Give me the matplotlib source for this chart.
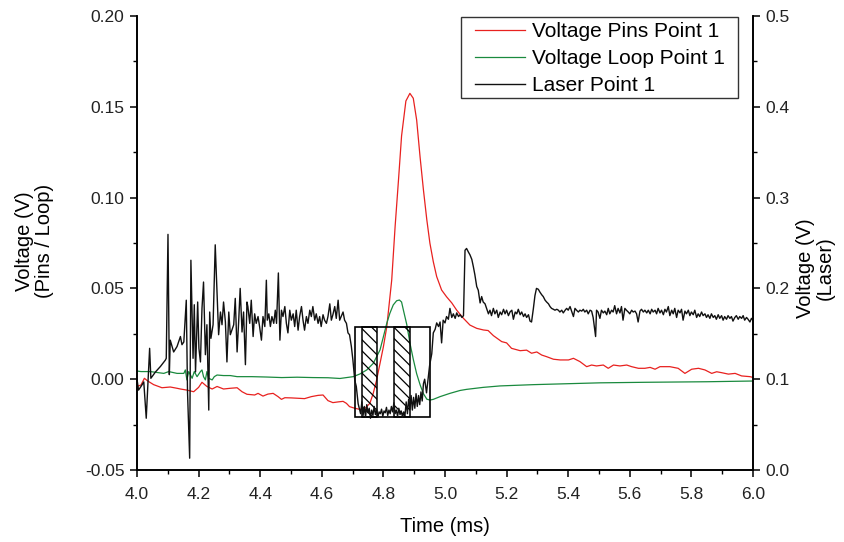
import matplotlib
matplotlib.use("Agg")
import matplotlib.pyplot as plt
from matplotlib.patches import Rectangle
from matplotlib.ticker import MultipleLocator, FormatStrFormatter

plt.rcParams['font.family'] = ['Liberation Sans', 'DejaVu Sans']
plt.rcParams['hatch.linewidth'] = 0.9

# ---- Voltage on the pins (left axis, V) ----
pins_t = [4.000, 4.013, 4.024, 4.035, 4.054, 4.081, 4.108, 4.130, 4.141, 4.162,
          4.184, 4.200, 4.211, 4.227, 4.244, 4.260, 4.281, 4.303, 4.325, 4.341,
          4.357, 4.382, 4.393, 4.409, 4.425, 4.442, 4.458, 4.469, 4.480, 4.501,
          4.523, 4.544, 4.566, 4.588, 4.604, 4.620, 4.636, 4.653, 4.669, 4.680,
          4.690, 4.707, 4.723, 4.740, 4.756, 4.767, 4.778, 4.789, 4.800, 4.811,
          4.827, 4.838, 4.849, 4.859, 4.873, 4.886, 4.897, 4.908, 4.919, 4.930,
          4.941, 4.951, 4.962, 4.973, 4.989, 5.005, 5.022, 5.038, 5.060, 5.081,
          5.103, 5.125, 5.140, 5.157, 5.184, 5.200, 5.216, 5.244, 5.265, 5.281,
          5.298, 5.314, 5.330, 5.352, 5.374, 5.401, 5.417, 5.438, 5.460, 5.476,
          5.492, 5.514, 5.530, 5.547, 5.568, 5.590, 5.606, 5.628, 5.649, 5.666,
          5.682, 5.698, 5.730, 5.757, 5.779, 5.801, 5.823, 5.844, 5.866, 5.882,
          5.898, 5.920, 5.942, 5.963, 5.990, 6.000]
pins_v = [-0.0040, -0.0032, 0.0005, -0.0010, -0.0030, -0.0047, -0.0043, -0.0050, -0.0054, -0.0060,
          -0.0069, -0.0045, -0.0017, -0.0040, -0.0054, -0.0040, -0.0054, -0.0050, -0.0047, -0.0069,
          -0.0083, -0.0087, -0.0078, -0.0093, -0.0082, -0.0078, -0.0096, -0.0111, -0.0102, -0.0103,
          -0.0105, -0.0107, -0.0096, -0.0089, -0.0087, -0.0118, -0.0129, -0.0125, -0.0122, -0.0133,
          -0.0151, -0.0160, -0.0166, -0.0161, -0.0133, -0.0078, -0.0004, 0.0087, 0.0179, 0.0289,
          0.0546, 0.0840, 0.1097, 0.1340, 0.1532, 0.1574, 0.1547, 0.1427, 0.1225, 0.1042,
          0.0877, 0.0749, 0.0647, 0.0565, 0.0491, 0.0454, 0.0420, 0.0380, 0.0335, 0.0298,
          0.0280, 0.0271, 0.0268, 0.0240, 0.0207, 0.0200, 0.0170, 0.0157, 0.0160, 0.0143,
          0.0150, 0.0133, 0.0124, 0.0110, 0.0106, 0.0106, 0.0115, 0.0097, 0.0069, 0.0078,
          0.0073, 0.0078, 0.0060, 0.0078, 0.0073, 0.0078, 0.0069, 0.0060, 0.0060, 0.0065,
          0.0055, 0.0069, 0.0069, 0.0060, 0.0032, 0.0055, 0.0060, 0.0051, 0.0032, 0.0041,
          0.0036, 0.0028, 0.0032, 0.0018, 0.0014, 0.0010]

# ---- Voltage on the loop (left axis, V) ----
loop_t = [4.000, 4.013, 4.043, 4.087, 4.103, 4.130, 4.152, 4.157, 4.162, 4.168,
          4.179, 4.186, 4.195, 4.206, 4.211, 4.216, 4.222, 4.227, 4.233, 4.244,
          4.251, 4.260, 4.281, 4.303, 4.325, 4.346, 4.373, 4.420, 4.470, 4.520,
          4.570, 4.620, 4.659, 4.702, 4.724, 4.746, 4.767, 4.778, 4.789, 4.800,
          4.811, 4.821, 4.832, 4.843, 4.852, 4.859, 4.865, 4.876, 4.886, 4.897,
          4.908, 4.919, 4.930, 4.941, 4.951, 4.962, 4.984, 5.016, 5.049, 5.070,
          5.124, 5.179, 5.287, 5.395, 5.503, 5.650, 5.850, 6.000]
loop_v = [0.0045, 0.0042, 0.0042, 0.0032, 0.0042, 0.0032, 0.0032, 0.0051, -0.0004, 0.0042,
          0.0005, 0.0042, 0.0014, 0.0042, 0.0051, 0.0014, -0.0004, 0.0042, 0.0005, -0.0004,
          0.0014, 0.0023, 0.0020, 0.0020, 0.0014, 0.0014, 0.0014, 0.0012, 0.0009, 0.0011,
          0.0009, 0.0008, 0.0004, 0.0014, 0.0029, 0.0051, 0.0087, 0.0124, 0.0161, 0.0234,
          0.0308, 0.0363, 0.0409, 0.0432, 0.0436, 0.0425, 0.0380, 0.0300, 0.0200, 0.0110,
          0.0030, -0.0030, -0.0080, -0.0110, -0.0115, -0.0111, -0.0096, -0.0078, -0.0062, -0.0056,
          -0.0045, -0.0037, -0.0030, -0.0025, -0.0020, -0.0017, -0.0014, -0.0010]

# ---- Laser signal (right axis, V) ----
laser_t = [4.000, 4.005, 4.013, 4.022, 4.030, 4.041, 4.045, 4.060, 4.076, 4.092,
           4.095, 4.1006, 4.105, 4.108, 4.119, 4.130, 4.141, 4.146, 4.152, 4.160,
           4.164, 4.171, 4.175, 4.182, 4.186, 4.190, 4.197, 4.201, 4.206, 4.211,
           4.216, 4.222, 4.227, 4.233, 4.236, 4.240, 4.247, 4.254, 4.260, 4.265,
           4.271, 4.276, 4.281, 4.287, 4.292, 4.298, 4.303, 4.314, 4.319, 4.325,
           4.330, 4.335, 4.341, 4.346, 4.352, 4.357, 4.360, 4.366, 4.371, 4.377,
           4.382, 4.387, 4.393, 4.398, 4.404, 4.409, 4.415, 4.420, 4.423, 4.428,
           4.433, 4.438, 4.444, 4.449, 4.453, 4.459, 4.464, 4.469, 4.474, 4.480,
           4.485, 4.490, 4.496, 4.501, 4.507, 4.512, 4.517, 4.523, 4.528, 4.534,
           4.539, 4.544, 4.550, 4.555, 4.561, 4.566, 4.571, 4.577, 4.582, 4.588,
           4.593, 4.598, 4.604, 4.609, 4.615, 4.620, 4.626, 4.631, 4.636, 4.642,
           4.647, 4.653, 4.658, 4.663, 4.669, 4.674, 4.680, 4.685, 4.690, 4.696,
           4.701, 4.707, 4.712, 4.718, 4.723, 4.726, 4.730, 4.734, 4.738, 4.742,
           4.746, 4.750, 4.754, 4.758, 4.762, 4.766, 4.770, 4.774, 4.778, 4.782,
           4.786, 4.790, 4.794, 4.798, 4.802, 4.806, 4.810, 4.814, 4.818, 4.822,
           4.826, 4.830, 4.834, 4.838, 4.842, 4.846, 4.850, 4.854, 4.858, 4.862,
           4.866, 4.870, 4.874, 4.878, 4.882, 4.886, 4.890, 4.894, 4.898, 4.902,
           4.906, 4.910, 4.914, 4.918, 4.922, 4.926, 4.930, 4.934, 4.940, 4.950,
           4.957, 4.962, 4.968, 4.973, 4.979, 4.984, 4.989, 4.994, 5.000, 5.005,
           5.011, 5.016, 5.022, 5.027, 5.033, 5.038, 5.044, 5.049, 5.055, 5.060,
           5.065, 5.070, 5.076, 5.081, 5.087, 5.092, 5.097, 5.103, 5.108, 5.114,
           5.119, 5.124, 5.130, 5.135, 5.141, 5.146, 5.151, 5.157, 5.162, 5.168,
           5.173, 5.179, 5.184, 5.190, 5.195, 5.200, 5.206, 5.211, 5.217, 5.222,
           5.228, 5.233, 5.238, 5.244, 5.249, 5.255, 5.260, 5.265, 5.271, 5.276,
           5.281, 5.287, 5.292, 5.297, 5.303, 5.308, 5.314, 5.319, 5.325, 5.330,
           5.336, 5.341, 5.346, 5.352, 5.357, 5.363, 5.368, 5.373, 5.379, 5.384,
           5.390, 5.395, 5.400, 5.406, 5.411, 5.417, 5.422, 5.427, 5.433, 5.438,
           5.444, 5.449, 5.454, 5.460, 5.465, 5.471, 5.476, 5.481, 5.489, 5.492,
           5.497, 5.503, 5.508, 5.514, 5.519, 5.525, 5.530, 5.535, 5.541, 5.546,
           5.551, 5.557, 5.562, 5.568, 5.573, 5.578, 5.584, 5.589, 5.595, 5.600,
           5.606, 5.611, 5.617, 5.622, 5.627, 5.633, 5.638, 5.644, 5.649, 5.655,
           5.660, 5.666, 5.671, 5.676, 5.682, 5.687, 5.692, 5.698, 5.703, 5.709,
           5.714, 5.719, 5.725, 5.730, 5.736, 5.741, 5.746, 5.752, 5.757, 5.763,
           5.768, 5.773, 5.779, 5.784, 5.790, 5.795, 5.800, 5.806, 5.811, 5.817,
           5.822, 5.827, 5.833, 5.838, 5.844, 5.849, 5.854, 5.860, 5.865, 5.871,
           5.876, 5.881, 5.887, 5.892, 5.898, 5.903, 5.908, 5.914, 5.919, 5.925,
           5.930, 5.935, 5.941, 5.946, 5.952, 5.957, 5.963, 5.968, 5.973, 5.979,
           5.984, 5.990, 5.995, 6.000]
laser_v = [0.100, 0.088, 0.092, 0.097, 0.057, 0.134, 0.101, 0.108, 0.114, 0.121,
           0.123, 0.2595, 0.105, 0.143, 0.130, 0.136, 0.147, 0.138, 0.141, 0.187,
           0.086, 0.013, 0.231, 0.123, 0.182, 0.108, 0.185, 0.134, 0.119, 0.178,
           0.207, 0.127, 0.160, 0.066, 0.174, 0.145, 0.160, 0.248, 0.193, 0.149,
           0.174, 0.160, 0.185, 0.163, 0.119, 0.174, 0.149, 0.160, 0.189, 0.130,
           0.163, 0.200, 0.152, 0.174, 0.116, 0.185, 0.180, 0.1615, 0.187, 0.147,
           0.172, 0.1615, 0.169, 0.158, 0.143, 0.169, 0.158, 0.209, 0.165, 0.172,
           0.158, 0.169, 0.1615, 0.176, 0.1615, 0.217, 0.143, 0.176, 0.169, 0.180,
           0.1615, 0.151, 0.176, 0.165, 0.172, 0.158, 0.176, 0.154, 0.169, 0.180,
           0.165, 0.154, 0.169, 0.1615, 0.176, 0.169, 0.180, 0.165, 0.172, 0.1615,
           0.169, 0.158, 0.171, 0.165, 0.1615, 0.169, 0.183, 0.165, 0.171, 0.180,
           0.167, 0.187, 0.165, 0.169, 0.174, 0.165, 0.1615, 0.151, 0.149, 0.136,
           0.121, 0.099, 0.092, 0.073, 0.066, 0.062, 0.075, 0.060, 0.070, 0.058,
           0.072, 0.063, 0.068, 0.057, 0.066, 0.060, 0.070, 0.061, 0.067, 0.058,
           0.064, 0.062, 0.067, 0.059, 0.065, 0.063, 0.069, 0.060, 0.066, 0.062,
           0.070, 0.064, 0.074, 0.062, 0.066, 0.059, 0.068, 0.061, 0.065, 0.058,
           0.064, 0.060, 0.075, 0.062, 0.078, 0.067, 0.082, 0.066, 0.080, 0.068,
           0.084, 0.070, 0.082, 0.072, 0.086, 0.076, 0.095, 0.100, 0.085, 0.115,
           0.128, 0.151, 0.155, 0.162, 0.158, 0.163, 0.140, 0.165, 0.162, 0.169,
           0.166, 0.178, 0.168, 0.172, 0.167, 0.173, 0.169, 0.171, 0.168, 0.170,
           0.242, 0.244, 0.240, 0.237, 0.232, 0.224, 0.215, 0.202, 0.198, 0.184,
           0.191, 0.185, 0.183, 0.178, 0.172, 0.176, 0.170, 0.178, 0.172, 0.176,
           0.168, 0.174, 0.171, 0.177, 0.172, 0.176, 0.170, 0.174, 0.176, 0.166,
           0.174, 0.172, 0.177, 0.171, 0.174, 0.169, 0.172, 0.168, 0.171, 0.164,
           0.163, 0.178, 0.192, 0.200, 0.199, 0.196, 0.193, 0.191, 0.187, 0.185,
           0.183, 0.180, 0.178, 0.177, 0.176, 0.177, 0.176, 0.174, 0.176, 0.173,
           0.176, 0.178, 0.176, 0.180, 0.175, 0.169, 0.178, 0.176, 0.174, 0.176,
           0.175, 0.177, 0.174, 0.176, 0.172, 0.176, 0.175, 0.168, 0.147, 0.176,
           0.174, 0.167, 0.176, 0.173, 0.175, 0.171, 0.178, 0.172, 0.176, 0.174,
           0.181, 0.172, 0.178, 0.173, 0.180, 0.165, 0.178, 0.176, 0.174, 0.172,
           0.176, 0.174, 0.175, 0.172, 0.163, 0.175, 0.177, 0.174, 0.176, 0.173,
           0.176, 0.172, 0.177, 0.174, 0.176, 0.172, 0.178, 0.173, 0.176, 0.171,
           0.177, 0.174, 0.180, 0.170, 0.176, 0.172, 0.178, 0.168, 0.176, 0.173,
           0.177, 0.165, 0.175, 0.172, 0.176, 0.170, 0.174, 0.171, 0.176, 0.168,
           0.172, 0.169, 0.174, 0.170, 0.172, 0.168, 0.171, 0.167, 0.172, 0.168,
           0.170, 0.166, 0.171, 0.167, 0.170, 0.165, 0.169, 0.166, 0.170, 0.167,
           0.169, 0.164, 0.168, 0.170, 0.166, 0.169, 0.167, 0.170, 0.165, 0.168,
           0.166, 0.163, 0.167, 0.165]

# Marked time window (outer box) and the two shaded sub-intervals
window_t = (4.709, 4.951)
window_v = (-0.0208, 0.0287)
shaded_t = [(4.7315, 4.780), (4.834, 4.886)]

W, H = 844, 542
fig = plt.figure(figsize=(W / 100, H / 100), dpi=100)
ax1 = fig.add_axes([137 / W, 72 / H, 616 / W, 454 / H])
ax2 = ax1.twinx()

red = '#e8211f'
green = '#1a8a3e'

l1, = ax1.plot(pins_t, pins_v, color=red, lw=0.9, label='Voltage Pins Point 1')
l2, = ax1.plot(loop_t, loop_v, color=green, lw=0.9, label='Voltage Loop Point 1')
l3, = ax2.plot(laser_t, laser_v, color='#111111', lw=1.0, label='Laser Point 1')

# Window box with hatched sub-intervals
for t0, t1 in shaded_t:
    ax1.add_patch(Rectangle((t0, window_v[0]), t1 - t0, window_v[1] - window_v[0],
                            facecolor='none', edgecolor='black', lw=1.1,
                            hatch='\\\\\\', zorder=5))
ax1.add_patch(Rectangle((window_t[0], window_v[0]), window_t[1] - window_t[0],
                        window_v[1] - window_v[0], facecolor='none',
                        edgecolor='black', lw=1.2, zorder=5))

ax1.set_xlim(4.0, 6.0)
ax1.set_ylim(-0.05, 0.20)
ax2.set_ylim(0.0, 0.5)

ax1.xaxis.set_major_locator(MultipleLocator(0.2))
ax1.xaxis.set_minor_locator(MultipleLocator(0.1))
ax1.xaxis.set_major_formatter(FormatStrFormatter('%.1f'))
ax1.yaxis.set_major_locator(MultipleLocator(0.05))
ax1.yaxis.set_minor_locator(MultipleLocator(0.025))
ax1.yaxis.set_major_formatter(FormatStrFormatter('%.2f'))
ax2.yaxis.set_major_locator(MultipleLocator(0.1))
ax2.yaxis.set_minor_locator(MultipleLocator(0.05))
ax2.yaxis.set_major_formatter(FormatStrFormatter('%.1f'))

for ax in (ax1, ax2):
    ax.spines['top'].set_visible(False)
    for s in ax.spines.values():
        s.set_linewidth(1.2)
    ax.tick_params(which='major', direction='out', length=5, width=1.1,
                   labelsize=12.5, colors='black', labelcolor='#222222')
    ax.tick_params(which='minor', direction='out', length=3, width=1.0)
ax1.tick_params(axis='x', pad=7)
ax1.tick_params(axis='y', pad=4)
ax2.tick_params(axis='y', pad=4)

ax1.set_xlabel('Time (ms)', fontsize=14.5, labelpad=11)
fig.text(0.041, 0.555, 'Voltage (V)\n(Pins / Loop)', rotation=90, fontsize=14.5,
         ha='center', va='center', linespacing=1.1)
fig.text(0.966, 0.505, 'Voltage (V)\n(Laser)', rotation=90, fontsize=14.5,
         ha='center', va='center', linespacing=1.1)

# Legend entries, with a separate square frame around them
leg = fig.legend(handles=[l1, l2, l3], loc='upper left',
                 bbox_to_anchor=(475 / W, 1 - 22 / H), borderaxespad=0,
                 fontsize=15, frameon=False, handlelength=2.4,
                 handletextpad=0.35, borderpad=0, labelspacing=0.38)
fig.add_artist(Rectangle((461 / W, 1 - 98 / H), 277 / W, 81 / H,
                         transform=fig.transFigure, facecolor='white',
                         edgecolor='#333333', lw=1.0, zorder=4))
leg.set_zorder(6)

fig.savefig('out.png', dpi=100)
